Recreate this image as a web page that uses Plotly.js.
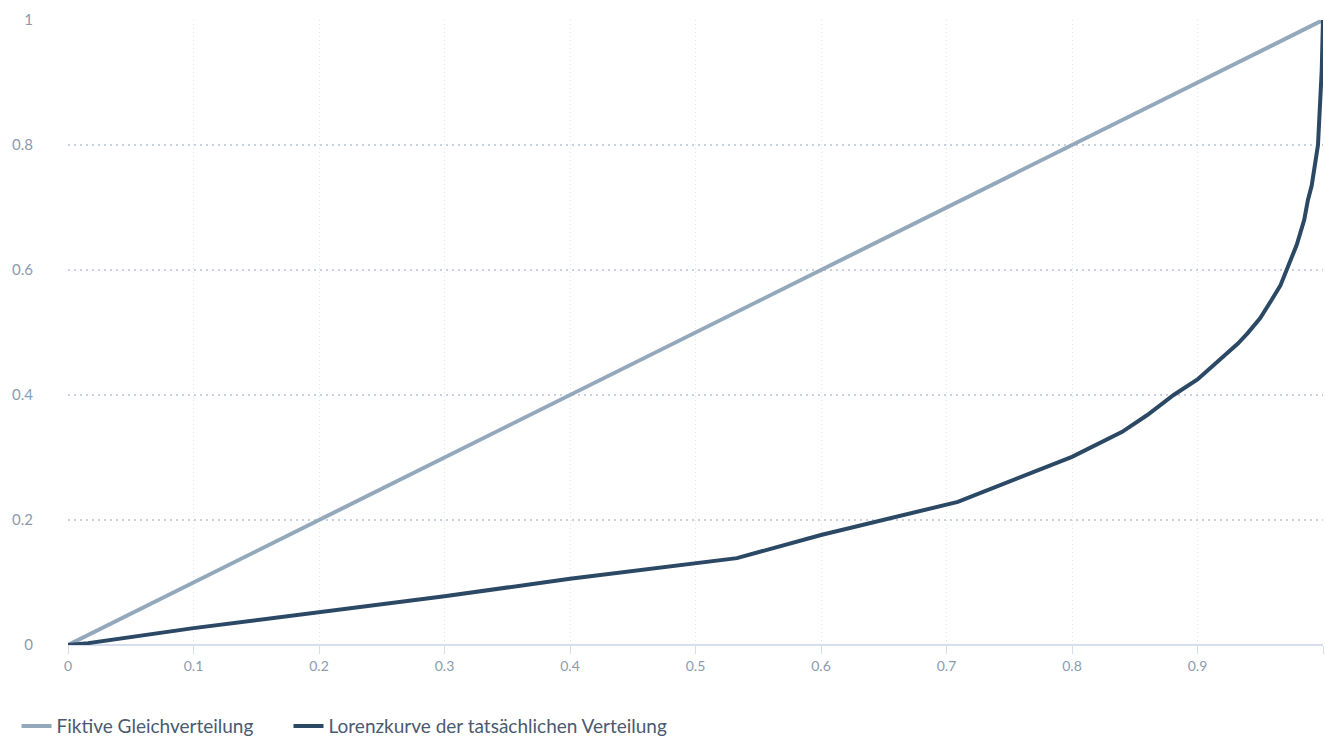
<!DOCTYPE html>
<html>
<head>
<meta charset="utf-8">
<script src="https://cdn.plot.ly/plotly-3.0.1.min.js"></script>
<style>html,body{margin:0;padding:0;background:#fff;}#chart{width:1325px;height:738px;}</style>
</head>
<body>
<div id="chart"></div>
<script>
const equalX = [0, 1];
const equalY = [0, 1];
const lorenzX = [0, 0.016, 0.1, 0.2, 0.3, 0.4, 0.5, 0.533, 0.6, 0.709, 0.8, 0.84, 0.86, 0.881, 0.9, 0.91, 0.923, 0.932, 0.94, 0.95, 0.959, 0.966, 0.971, 0.979, 0.985, 0.988, 0.991, 0.993, 0.996, 0.997, 0.998, 0.999, 1];
const lorenzY = [0, 0.003, 0.027, 0.053, 0.078, 0.106, 0.131, 0.139, 0.176, 0.229, 0.301, 0.341, 0.368, 0.4, 0.425, 0.443, 0.467, 0.482, 0.499, 0.523, 0.552, 0.575, 0.6, 0.64, 0.68, 0.712, 0.735, 0.76, 0.8, 0.84, 0.88, 0.92, 1];
const seriesNames = ["Fiktive Gleichverteilung", "Lorenzkurve der tatsächlichen Verteilung"];
const tickVals = [0, 0.1, 0.2, 0.3, 0.4, 0.5, 0.6, 0.7, 0.8, 0.9, 1];
const tickText = ["0", "0.1", "0.2", "0.3", "0.4", "0.5", "0.6", "0.7", "0.8", "0.9", "1"];
const yTickVals = [0, 0.2, 0.4, 0.6, 0.8, 1];
const yTickText = ["0", "0.2", "0.4", "0.6", "0.8", "1"];

const font = "'Source Sans Pro', Lato, 'Noto Sans', sans-serif";
const traces = [
  {x: equalX, y: equalY, mode: "lines", name: seriesNames[0], legend: "legend", line: {color: "#94a8bb", width: 4}, hoverinfo: "skip"},
  {x: lorenzX, y: lorenzY, mode: "lines", name: seriesNames[1], legend: "legend2", line: {color: "#2b4865", width: 4, shape: "linear"}, hoverinfo: "skip"}
];
const legendBase = {orientation: "h", xanchor: "left", yref: "container", y: 0.016, yanchor: "middle",
  font: {size: 19, color: "#4a5a70", family: font}, itemwidth: 30, bgcolor: "rgba(0,0,0,0)"};
const layout = {
  width: 1325, height: 738,
  margin: {l: 68, r: 2, t: 20, b: 93, autoexpand: false},
  paper_bgcolor: "#fff", plot_bgcolor: "#fff",
  font: {family: font, color: "#8a9bb0", size: 14},
  showlegend: true,
  legend: Object.assign({}, legendBase, {x: -0.041}),
  legend2: Object.assign({}, legendBase, {x: 0.1757}),
  xaxis: {range: [0, 1], tickvals: tickVals, ticktext: tickText, showgrid: true,
          gridcolor: "#dfe3ea", griddash: "1px,3px", gridwidth: 1, zeroline: false,
          showline: false, ticks: "outside", ticklen: 8, tickcolor: "#d5ddef", tickwidth: 1,
          tickfont: {size: 14, color: "#8a9bb0"}, fixedrange: true},
  yaxis: {range: [0, 1], tickvals: yTickVals, ticktext: yTickText, showgrid: true,
          gridcolor: "#c8d1de", griddash: "2px,4px", gridwidth: 2, zeroline: true,
          zerolinecolor: "#d5ddef", zerolinewidth: 2, showline: false, ticks: "",
          ticklabelstandoff: 34,
          tickfont: {size: 15, color: "#8a9bb0"}, fixedrange: true}
};
Plotly.newPlot("chart", traces, layout, {displayModeBar: false, staticPlot: true});
</script>
</body>
</html>
